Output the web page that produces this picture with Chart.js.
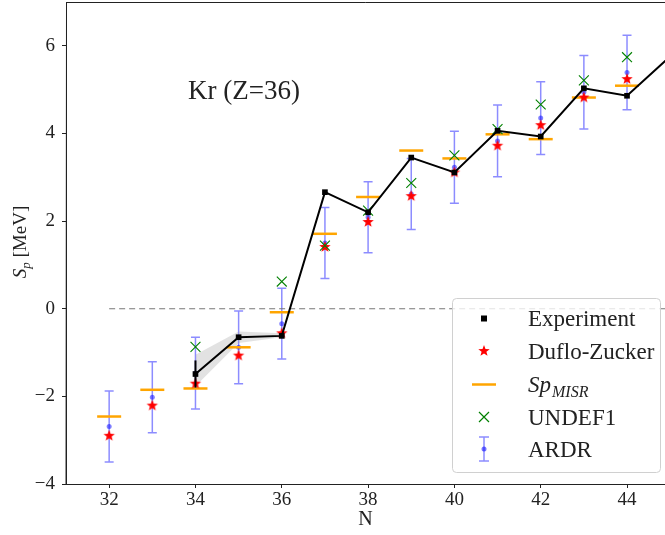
<!DOCTYPE html>
<html>
<head>
<meta charset="utf-8">
<script src="https://cdn.jsdelivr.net/npm/chart.js@4.4.0/dist/chart.umd.min.js"></script>
<style>
  html, body { margin: 0; padding: 0; background: #fff; }
  canvas { display: block; }
</style>
</head>
<body>
<canvas id="spChart" width="665" height="535"></canvas>
<script>
// Separation energies for Kr isotopes
const nAll = [32, 33, 34, 35, 36, 37, 38, 39, 40, 41, 42, 43, 44];

const expN = [34, 35, 36, 37, 38, 39, 40, 41, 42, 43, 44, 45];
const expSp = [-1.49, -0.65, -0.62, 2.66, 2.20, 3.45, 3.11, 4.06, 3.93, 5.03, 4.86, 5.76];
const expErr = [0.31, 0, 0, 0, 0, 0, 0, 0, 0, 0, 0, 0];

const dzSp = [-2.90, -2.21, -1.71, -1.07, -0.56, 1.41, 1.98, 2.57, 3.11, 3.72, 4.19, 4.82, 5.24];
const misrSp = [-2.46, -1.85, -1.82, -0.88, -0.08, 1.71, 2.55, 3.61, 3.43, 3.98, 3.87, 4.82, 5.09];

const undefN = [34, 36, 37, 38, 39, 40, 41, 42, 43, 44];
const undefSp = [-0.87, 0.62, 1.44, 2.24, 2.87, 3.50, 4.10, 4.66, 5.21, 5.74];

const ardrSp = [-2.69, -2.02, -1.47, -0.88, -0.34, 1.50, 2.09, 2.62, 3.23, 3.83, 4.35, 4.94, 5.39];
const ardrErr = [0.81, 0.81, 0.82, 0.83, 0.81, 0.81, 0.81, 0.81, 0.82, 0.82, 0.83, 0.84, 0.85];

// shaded band around the first experimental points
const bandN = [34, 35, 36];
const bandHi = [-1.05, -0.52, -0.56];
const bandLo = [-1.77, -0.78, -0.65];

const xTicks = [32, 34, 36, 38, 40, 42, 44];
const yTicks = [-4, -2, 0, 2, 4, 6];

const SERIF = "'Liberation Serif', 'DejaVu Serif', serif";
const ARDR_COLOR = "rgba(0, 0, 255, 0.45)";

const pts = (xs, ys) => xs.map((x, i) => ({ x: x, y: ys[i] }));

// filled five point star used as a marker
function makeStar(r, color) {
  const c = document.createElement("canvas");
  const s = Math.ceil(2 * r + 2);
  c.width = s; c.height = s;
  const g = c.getContext("2d");
  g.translate(s / 2, s / 2);
  g.beginPath();
  for (let i = 0; i < 10; i++) {
    const rad = i % 2 === 0 ? r : r * 0.42;
    const a = -Math.PI / 2 + i * Math.PI / 5;
    g.lineTo(Math.cos(a) * rad, Math.sin(a) * rad);
  }
  g.closePath();
  g.fillStyle = color;
  g.fill();
  return c;
}
const star = makeStar(6, "#ff0000");

// keep the plot box fixed, no room reserved for tick labels
function fixBox(size) {
  return s => {
    if (s.isHorizontal()) s.height = size; else s.width = size;
    s.paddingTop = 0; s.paddingBottom = 0;
    s.paddingLeft = 0; s.paddingRight = 0;
  };
}

// error bars, frame, title and legend
const extras = {
  id: "extras",
  beforeDatasetsDraw(chart) {
    const { ctx, chartArea: a, scales: { x, y } } = chart;
    ctx.save();
    ctx.beginPath();
    ctx.rect(a.left, a.top, a.right - a.left, a.bottom - a.top);
    ctx.clip();
    ctx.strokeStyle = ARDR_COLOR;
    ctx.lineWidth = 1.5;
    nAll.forEach((n, i) => {
      const px = x.getPixelForValue(n);
      const top = y.getPixelForValue(ardrSp[i] + ardrErr[i]);
      const bot = y.getPixelForValue(ardrSp[i] - ardrErr[i]);
      ctx.beginPath();
      ctx.moveTo(px, top); ctx.lineTo(px, bot);
      ctx.moveTo(px - 4.5, top); ctx.lineTo(px + 4.5, top);
      ctx.moveTo(px - 4.5, bot); ctx.lineTo(px + 4.5, bot);
      ctx.stroke();
    });
    ctx.restore();
  },
  afterDatasetsDraw(chart) {
    const { ctx, scales: { x, y } } = chart;
    ctx.save();
    ctx.strokeStyle = "#000";
    ctx.lineWidth = 2;
    expN.forEach((n, i) => {
      if (!expErr[i]) return;
      const px = x.getPixelForValue(n);
      ctx.beginPath();
      ctx.moveTo(px, y.getPixelForValue(expSp[i] + expErr[i]));
      ctx.lineTo(px, y.getPixelForValue(expSp[i] - expErr[i]));
      ctx.stroke();
    });
    ctx.restore();
  },
  afterDraw(chart) {
    const { ctx, chartArea: a } = chart;
    ctx.save();

    // frame
    ctx.strokeStyle = "#222";
    ctx.lineWidth = 1;
    ctx.beginPath();
    ctx.moveTo(a.left, a.bottom + 0.5);
    ctx.lineTo(a.left + 0.5, a.top + 0.5);
    ctx.lineTo(a.right, a.top + 0.5);
    ctx.stroke();

    // y axis title
    ctx.save();
    ctx.translate(26, 242);
    ctx.rotate(-Math.PI / 2);
    ctx.fillStyle = "#222";
    ctx.textBaseline = "alphabetic";
    ctx.font = "italic 19px " + SERIF;
    const wS = ctx.measureText("S").width;
    ctx.font = "italic 13px " + SERIF;
    const wp = ctx.measureText("p").width;
    ctx.font = "19px " + SERIF;
    const wRest = ctx.measureText(" [MeV]").width;
    let tx = -(wS + wp + wRest) / 2;
    ctx.font = "italic 19px " + SERIF;
    ctx.fillText("S", tx, 0); tx += wS;
    ctx.font = "italic 13px " + SERIF;
    ctx.fillText("p", tx, 4); tx += wp;
    ctx.font = "19px " + SERIF;
    ctx.fillText(" [MeV]", tx, 0);
    ctx.restore();

    // nucleus label
    ctx.fillStyle = "#222";
    ctx.font = "27px " + SERIF;
    ctx.textBaseline = "alphabetic";
    ctx.fillText("Kr (Z=36)", 188, 99);

    // legend
    const lx = 452, ly = 298, lw = 208, lh = 174;
    ctx.beginPath();
    ctx.roundRect(lx + 0.5, ly + 0.5, lw, lh, 4);
    ctx.fillStyle = "rgba(255,255,255,0.8)";
    ctx.fill();
    ctx.strokeStyle = "#d0d0d0";
    ctx.lineWidth = 1;
    ctx.stroke();

    const mx = 484, tx0 = 528;
    const rows = [326, 358.5, 391.5, 424.5, 456.5];

    // Experiment
    ctx.fillStyle = "#000";
    ctx.fillRect(mx - 3, rows[0] - 10.5, 6, 6);
    // Duflo-Zucker
    ctx.drawImage(star, mx - star.width / 2, rows[1] - 7.5 - star.height / 2);
    // Sp_MISR
    ctx.strokeStyle = "#ffa500";
    ctx.lineWidth = 2.5;
    ctx.beginPath();
    ctx.moveTo(mx - 12, rows[2] - 7); ctx.lineTo(mx + 12, rows[2] - 7);
    ctx.stroke();
    // UNDEF1
    ctx.strokeStyle = "#008000";
    ctx.lineWidth = 1.2;
    const cy = rows[3] - 7.5;
    ctx.beginPath();
    ctx.moveTo(mx - 5, cy - 5); ctx.lineTo(mx + 5, cy + 5);
    ctx.moveTo(mx - 5, cy + 5); ctx.lineTo(mx + 5, cy - 5);
    ctx.stroke();
    // ARDR
    const ey = rows[4] - 7.5;
    ctx.strokeStyle = ARDR_COLOR;
    ctx.lineWidth = 1.5;
    ctx.beginPath();
    ctx.moveTo(mx, ey - 12); ctx.lineTo(mx, ey + 12);
    ctx.moveTo(mx - 5, ey - 12); ctx.lineTo(mx + 5, ey - 12);
    ctx.moveTo(mx - 5, ey + 12); ctx.lineTo(mx + 5, ey + 12);
    ctx.stroke();
    ctx.fillStyle = "rgba(0,0,255,0.55)";
    ctx.beginPath();
    ctx.arc(mx, ey, 2.5, 0, Math.PI * 2);
    ctx.fill();

    ctx.fillStyle = "#222";
    ctx.font = "23px " + SERIF;
    ctx.fillText("Experiment", tx0, rows[0]);
    ctx.fillText("Duflo-Zucker", tx0, rows[1]);
    ctx.fillText("UNDEF1", tx0, rows[3]);
    ctx.fillText("ARDR", tx0, rows[4]);
    ctx.font = "italic 23px " + SERIF;
    ctx.fillText("Sp", tx0, rows[2]);
    const wSp = ctx.measureText("Sp").width;
    ctx.font = "italic 16px " + SERIF;
    ctx.fillText("MISR", tx0 + wSp + 1, rows[2] + 5);

    ctx.restore();
  }
};

new Chart(document.getElementById("spChart"), {
  type: "scatter",
  data: {
    datasets: [
      {
        label: "Experiment",
        data: pts(expN, expSp),
        showLine: true,
        borderColor: "#000",
        borderWidth: 2,
        backgroundColor: "#000",
        pointStyle: "rect",
        pointRadius: 4,
        pointBorderWidth: 0,
        order: 0
      },
      {
        label: "UNDEF1",
        data: pts(undefN, undefSp),
        pointStyle: "crossRot",
        pointRadius: 7,
        borderColor: "#008000",
        borderWidth: 1.1,
        order: 1
      },
      {
        label: "Duflo-Zucker",
        data: pts(nAll, dzSp),
        pointStyle: star,
        order: 2
      },
      {
        label: "Sp_MISR",
        data: pts(nAll, misrSp),
        pointStyle: "line",
        pointRadius: 12,
        borderColor: "#ffa500",
        borderWidth: 2.5,
        order: 3
      },
      {
        label: "ARDR",
        data: pts(nAll, ardrSp),
        pointRadius: 2.5,
        backgroundColor: "rgba(0,0,255,0.5)",
        borderWidth: 0,
        order: 4
      },
      {
        label: "zero",
        data: [{ x: 32, y: 0 }, { x: 46, y: 0 }],
        showLine: true,
        borderColor: "#777777",
        borderWidth: 1.2,
        borderDash: [6, 4],
        pointRadius: 0,
        order: 5
      },
      {
        label: "bandHi",
        data: pts(bandN, bandHi),
        showLine: true,
        borderWidth: 0,
        pointRadius: 0,
        backgroundColor: "rgba(150,150,150,0.28)",
        fill: "+1",
        order: 6
      },
      {
        label: "bandLo",
        data: pts(bandN, bandLo),
        showLine: true,
        borderWidth: 0,
        pointRadius: 0,
        order: 7
      }
    ]
  },
  options: {
    responsive: false,
    animation: false,
    devicePixelRatio: 1,
    layout: { autoPadding: false, padding: { top: 2, right: 0, left: 0, bottom: 0 } },
    plugins: {
      legend: { display: false },
      tooltip: { enabled: false }
    },
    scales: {
      x: {
        type: "linear",
        min: 31,
        max: 44.88,
        afterBuildTicks: s => { s.ticks = xTicks.map(v => ({ value: v })); },
        afterFit: fixBox(51),
        grid: { drawOnChartArea: false, tickLength: 4, color: "#222" },
        border: { color: "#222", width: 1 },
        ticks: { font: { family: SERIF, size: 19 }, color: "#222", padding: 1, maxRotation: 0 },
        title: {
          display: true,
          text: "N",
          font: { family: SERIF, size: 20 },
          color: "#222",
          padding: { top: 0, bottom: 3 }
        }
      },
      y: {
        type: "linear",
        min: -4,
        max: 7,
        afterBuildTicks: s => { s.ticks = yTicks.map(v => ({ value: v })); },
        afterFit: fixBox(66),
        grid: { drawOnChartArea: false, tickLength: 4, color: "#222" },
        border: { color: "#222", width: 1 },
        ticks: {
          font: { family: SERIF, size: 19 },
          color: "#222",
          padding: 7,
          callback: v => (v < 0 ? "\u2212" + Math.abs(v) : String(v))
        }
      }
    }
  },
  plugins: [extras]
});
</script>
</body>
</html>
